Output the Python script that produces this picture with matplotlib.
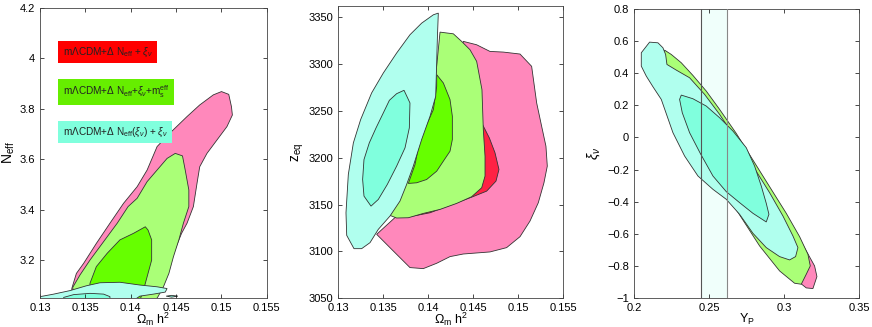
import numpy as np
import matplotlib
matplotlib.use("Agg")
import matplotlib.pyplot as plt

plt.rcParams["font.family"] = ["Liberation Sans", "DejaVu Sans"]
plt.rcParams["mathtext.fontset"] = "custom"
plt.rcParams["mathtext.rm"] = "Liberation Sans"
plt.rcParams["mathtext.it"] = "Liberation Sans:italic"

# ---- panel 1: Omega_m h^2 vs N_eff (contour outlines)
P1_PINK_X = [0.1335, 0.1340, 0.1348, 0.1362, 0.1377, 0.1392, 0.1407, 0.1418, 0.1429, 0.1443,
             0.1462, 0.1476, 0.1491, 0.1500, 0.1508, 0.1511, 0.1512, 0.1506, 0.1495, 0.1484,
             0.1476, 0.1473, 0.1469, 0.1462, 0.1456, 0.1447, 0.1432, 0.1425, 0.1335]
P1_PINK_Y = [3.088, 3.147, 3.187, 3.266, 3.346, 3.425, 3.491, 3.557, 3.650, 3.703,
             3.769, 3.815, 3.855, 3.868, 3.857, 3.808, 3.775, 3.729, 3.676, 3.623,
             3.570, 3.504, 3.412, 3.346, 3.306, 3.227, 3.094, 3.040, 3.040]
P1_GREEN_X = [0.1336, 0.1344, 0.1355, 0.1370, 0.1385, 0.1397, 0.1407, 0.1418, 0.1429, 0.1440,
              0.1449, 0.1457, 0.1460, 0.1464, 0.1464, 0.1458, 0.1453, 0.1447, 0.1442, 0.1436,
              0.1430, 0.1425, 0.1337]
P1_GREEN_Y = [3.092, 3.141, 3.200, 3.273, 3.346, 3.412, 3.445, 3.511, 3.557, 3.603,
              3.623, 3.613, 3.557, 3.478, 3.412, 3.346, 3.280, 3.213, 3.147, 3.094,
              3.055, 3.028, 3.028]
P1_DGREEN_X = [0.1355, 0.1362, 0.1374, 0.1388, 0.1403, 0.1416, 0.1419, 0.1423, 0.1423, 0.1418,
               0.1414, 0.1410, 0.1355]
P1_DGREEN_Y = [3.108, 3.174, 3.227, 3.280, 3.306, 3.332, 3.319, 3.280, 3.200, 3.134,
               3.081, 3.040, 3.040]
P1_CYAN_X = [0.1300, 0.1315, 0.1333, 0.1351, 0.1366, 0.1388, 0.1410, 0.1429, 0.1440, 0.1438,
             0.1425, 0.1410, 0.1403, 0.1300]
P1_CYAN_Y = [3.055, 3.065, 3.079, 3.098, 3.110, 3.112, 3.101, 3.094, 3.087, 3.073,
             3.065, 3.057, 3.040, 3.040]
P1_DCYAN_X = [0.1326, 0.1337, 0.1355, 0.1370, 0.1377, 0.1377, 0.1326]
P1_DCYAN_Y = [3.052, 3.063, 3.068, 3.065, 3.055, 3.040, 3.040]
P1_BLOB_X = [0.1439, 0.1445, 0.1452, 0.1445]
P1_BLOB_Y = [3.057, 3.060, 3.057, 3.053]

# ---- panel 2: Omega_m h^2 vs z_eq
P2_PINK_X = [0.13426, 0.13611, 0.13796, 0.13944, 0.14093, 0.14241, 0.14389, 0.14685, 0.14870,
             0.15019, 0.15130, 0.15222, 0.15285, 0.15322, 0.15307, 0.15259, 0.15204, 0.15148,
             0.15019, 0.14833, 0.14685, 0.14537, 0.14389, 0.14241, 0.14019, 0.13648]
P2_PINK_Y = [3118.2, 3100.4, 3082.7, 3081.6, 3087.3, 3094.4, 3097.2, 3099.4, 3104.0,
             3115.7, 3132.4, 3151.9, 3173.2, 3191.0, 3212.2, 3233.6, 3258.4, 3297.5,
             3310.6, 3312.7, 3313.4, 3320.5, 3324.1, 3262.0, 3191.0, 3137.7]
P2_RED_X = [0.14593, 0.14678, 0.14741, 0.14785, 0.14752, 0.14648, 0.14493, 0.14315, 0.14167,
            0.14019, 0.13870, 0.13778, 0.13944, 0.14315]
P2_RED_Y = [3237.1, 3221.1, 3205.2, 3187.4, 3175.0, 3164.3, 3158.3, 3151.9, 3146.6,
            3141.2, 3138.4, 3137.0, 3226.5, 3262.0]
P2_GREEN_X = [0.13574, 0.13648, 0.13778, 0.13944, 0.14130, 0.14315, 0.14481, 0.14593, 0.14630,
              0.14630, 0.14611, 0.14596, 0.14537, 0.14463, 0.14370, 0.14278, 0.14130, 0.14056,
              0.13907, 0.13722]
P2_GREEN_Y = [3138.4, 3135.6, 3135.9, 3140.5, 3144.8, 3151.2, 3158.3, 3167.9, 3180.3,
              3201.6, 3230.0, 3272.6, 3302.8, 3315.2, 3324.1, 3332.2, 3334.0, 3262.0,
              3215.8, 3169.6]
P2_DGREEN_X = [0.14093, 0.14167, 0.14241, 0.14267, 0.14267, 0.14241, 0.14167, 0.14093, 0.13981,
               0.13870, 0.13778, 0.13852, 0.13907, 0.14056, 0.14093]
P2_DGREEN_Y = [3288.6, 3279.7, 3262.0, 3244.2, 3219.4, 3206.9, 3196.3, 3185.6, 3176.7,
               3173.2, 3172.5, 3192.7, 3219.4, 3251.3, 3276.2]
P2_CYAN_X = [0.14111, 0.14100, 0.14082, 0.14019, 0.13926, 0.13833, 0.13759, 0.13685, 0.13574,
             0.13444, 0.13352, 0.13259, 0.13174, 0.13093, 0.13085, 0.13111, 0.13167, 0.13248,
             0.13370, 0.13500, 0.13648, 0.13796, 0.13926, 0.14056]
P2_CYAN_Y = [3354.3, 3325.9, 3265.5, 3244.2, 3219.4, 3191.0, 3171.4, 3153.7, 3137.7,
             3123.5, 3109.3, 3102.9, 3102.9, 3117.1, 3141.2, 3182.1, 3215.8, 3240.7,
             3269.1, 3290.4, 3311.7, 3331.2, 3343.6, 3352.5]
P2_DCYAN_X = [0.13730, 0.13648, 0.13567, 0.13500, 0.13419, 0.13344, 0.13285, 0.13270, 0.13285,
              0.13363, 0.13444, 0.13544, 0.13648, 0.13741, 0.13789, 0.13796]
P2_DCYAN_Y = [3271.9, 3268.3, 3261.2, 3247.8, 3231.8, 3215.8, 3198.0, 3176.8, 3159.0,
              3148.3, 3155.4, 3171.4, 3191.0, 3210.5, 3231.8, 3258.4]

# ---- panel 3: Y_P vs xi_nu
P3_PINK_X = [0.22111, 0.23711, 0.24422, 0.25267, 0.26378, 0.27489, 0.28600, 0.29711, 0.30600,
             0.31489, 0.32044, 0.32200, 0.31933, 0.31489, 0.31044, 0.29711, 0.27489, 0.25267,
             0.23044]
P3_PINK_Y = [0.5369, 0.3816, 0.3153, 0.2159, 0.0668, -0.0844, -0.2501, -0.4159, -0.5609,
             -0.7058, -0.7991, -0.8653, -0.9399, -0.9358, -0.9026, -0.7784, -0.5091, -0.1777,
             0.1745]
P3_GREEN_X = [0.22044, 0.22489, 0.23156, 0.23933, 0.24822, 0.25711, 0.26822, 0.27933, 0.29044,
              0.30156, 0.31044, 0.31600, 0.31756, 0.31489, 0.31156, 0.30711, 0.29711, 0.28378,
              0.26378, 0.24156, 0.22156, 0.21667, 0.21311, 0.21600]
P3_GREEN_Y = [0.5431, 0.5162, 0.4645, 0.3857, 0.2884, 0.1745, 0.0253, -0.1404, -0.3061,
              -0.4718, -0.6168, -0.7266, -0.7991, -0.8509, -0.9130, -0.9068, -0.8302, -0.6748,
              -0.3848, -0.0120, 0.2366, 0.2677, 0.3609, 0.4127]
P3_CYAN_X = [0.20489, 0.21044, 0.21600, 0.21933, 0.22111, 0.22200, 0.22822, 0.23711, 0.24711,
             0.25711, 0.26822, 0.27933, 0.29044, 0.29933, 0.30600, 0.30933, 0.30778, 0.30378,
             0.29711, 0.28822, 0.27933, 0.27044, 0.26156, 0.25267, 0.24267, 0.23378, 0.22600,
             0.21822, 0.21267, 0.20822, 0.20489]
P3_CYAN_Y = [0.5266, 0.5929, 0.5887, 0.5577, 0.5162, 0.4541, 0.4189, 0.3712, 0.2677,
             0.1434, -0.0120, -0.1777, -0.3434, -0.4884, -0.6126, -0.6851, -0.7411, -0.7618,
             -0.7411, -0.6851, -0.5961, -0.4780, -0.3848, -0.3227, -0.2398, -0.1155, 0.0295,
             0.2366, 0.3153, 0.3816, 0.4437]
P3_DCYAN_X = [0.23156, 0.23933, 0.24822, 0.25711, 0.26600, 0.27489, 0.28044, 0.28489, 0.28822,
              0.29000, 0.28822, 0.27933, 0.27044, 0.26156, 0.25267, 0.24422, 0.23711, 0.23222,
              0.23044]
P3_DCYAN_Y = [0.2635, 0.2407, 0.1952, 0.1227, 0.0398, -0.0637, -0.1777, -0.3020, -0.4097,
              -0.4780, -0.5257, -0.4718, -0.4055, -0.3372, -0.2398, -0.0989, 0.0295, 0.1537,
              0.2366]
YP_BAND = [0.2445, 0.2618]

LEGEND_LABELS = [r"m$\Lambda$CDM+$\Delta$ N$_{\rm eff}$ + $\xi_\nu$",
                 r"m$\Lambda$CDM+$\Delta$ N$_{\rm eff}$+$\xi_\nu$+m$_{\rm s}^{\rm eff}$",
                 r"m$\Lambda$CDM+$\Delta$ N$_{\rm eff}$($\xi_\nu$) + $\xi_\nu$"]

PINK = "#FF88BB"
RED = "#FF2244"
LGREEN = "#AAFF77"
DGREEN = "#66FF00"
LCYAN = "#B0FFEE"
DCYAN = "#80FFDD"
EDGE = "#333333"


def patch(ax, x, y, color):
    ax.fill(x, y, facecolor=color, edgecolor=EDGE, linewidth=0.6)


def style(ax, xlim, ylim, xticks, yticks, xfmt, yfmt):
    ax.set_xlim(*xlim)
    ax.set_ylim(*ylim)
    ax.set_xticks(xticks)
    ax.set_yticks(yticks)
    ax.set_xticklabels([xfmt(v) for v in xticks])
    ax.set_yticklabels([yfmt(v) for v in yticks])
    ax.tick_params(direction="in", top=True, right=True, labelsize=8, length=3, width=0.5)
    for s in ax.spines.values():
        s.set_linewidth(0.6)
        s.set_color("#444444")


def gfmt(v):
    return f"{v:g}"


fig = plt.figure(figsize=(8.72, 3.27), dpi=100)
ax1 = fig.add_axes([0.046, 0.089, 0.260, 0.887])
ax2 = fig.add_axes([0.388, 0.088, 0.258, 0.894])
ax3 = fig.add_axes([0.727, 0.088, 0.258, 0.885])

# panel 1
patch(ax1, P1_PINK_X, P1_PINK_Y, PINK)
patch(ax1, P1_GREEN_X, P1_GREEN_Y, LGREEN)
patch(ax1, P1_DGREEN_X, P1_DGREEN_Y, DGREEN)
patch(ax1, P1_CYAN_X, P1_CYAN_Y, LCYAN)
patch(ax1, P1_DCYAN_X, P1_DCYAN_Y, DCYAN)
patch(ax1, P1_BLOB_X, P1_BLOB_Y, DCYAN)
style(ax1, (0.13, 0.155), (3.05, 4.2), [0.13, 0.135, 0.14, 0.145, 0.15, 0.155],
      [3.2, 3.4, 3.6, 3.8, 4.0, 4.2], gfmt, gfmt)
ax1.set_xlabel(r"$\Omega_{\rm m}\ {\rm h}^2$", fontsize=9, labelpad=-1.5)
ax1.set_ylabel(r"N$_{\rm eff}$", fontsize=10, labelpad=2)
for lab, col, yy in zip(LEGEND_LABELS, ["#FF0000", "#66EE00", "#80FFDD"], [0.848, 0.710, 0.572]):
    ax1.text(0.10, yy, lab, transform=ax1.transAxes, fontsize=7.2, color="#222222",
             va="center", ha="left",
             bbox=dict(boxstyle="square,pad=0.45", facecolor=col, edgecolor="none"))

# panel 2
patch(ax2, P2_PINK_X, P2_PINK_Y, PINK)
patch(ax2, P2_RED_X, P2_RED_Y, RED)
patch(ax2, P2_GREEN_X, P2_GREEN_Y, LGREEN)
patch(ax2, P2_DGREEN_X, P2_DGREEN_Y, DGREEN)
patch(ax2, P2_CYAN_X, P2_CYAN_Y, LCYAN)
patch(ax2, P2_DCYAN_X, P2_DCYAN_Y, DCYAN)
style(ax2, (0.13, 0.155), (3050, 3362), [0.13, 0.135, 0.14, 0.145, 0.15, 0.155],
      [3050, 3100, 3150, 3200, 3250, 3300, 3350], gfmt, gfmt)
ax2.set_xlabel(r"$\Omega_{\rm m}\ {\rm h}^2$", fontsize=9, labelpad=-1.5)
ax2.set_ylabel(r"z$_{\rm eq}$", fontsize=10, labelpad=2)

# panel 3
ax3.axvspan(YP_BAND[0], YP_BAND[1], facecolor="#F0FFFB", edgecolor="none", zorder=0)
patch(ax3, P3_PINK_X, P3_PINK_Y, PINK)
patch(ax3, P3_GREEN_X, P3_GREEN_Y, LGREEN)
patch(ax3, P3_CYAN_X, P3_CYAN_Y, LCYAN)
patch(ax3, P3_DCYAN_X, P3_DCYAN_Y, DCYAN)
ax3.axvline(YP_BAND[0], color="#555555", linewidth=0.8, zorder=5)
ax3.axvline(YP_BAND[1], color="#888888", linewidth=0.8, zorder=5)
style(ax3, (0.2, 0.35), (-1.0, 0.8), [0.2, 0.25, 0.3, 0.35],
      [-1, -0.8, -0.6, -0.4, -0.2, 0, 0.2, 0.4, 0.6, 0.8],
      gfmt, lambda v: "\u22121" if v == -1 else gfmt(round(v, 1)).replace("-", "\u2212"))
ax3.set_xlabel(r"Y$_{\rm P}$", fontsize=9, labelpad=-0.5)
ax3.set_ylabel(r"$\xi_\nu$", fontsize=10, labelpad=4)

fig.savefig("out.png", dpi=100)
